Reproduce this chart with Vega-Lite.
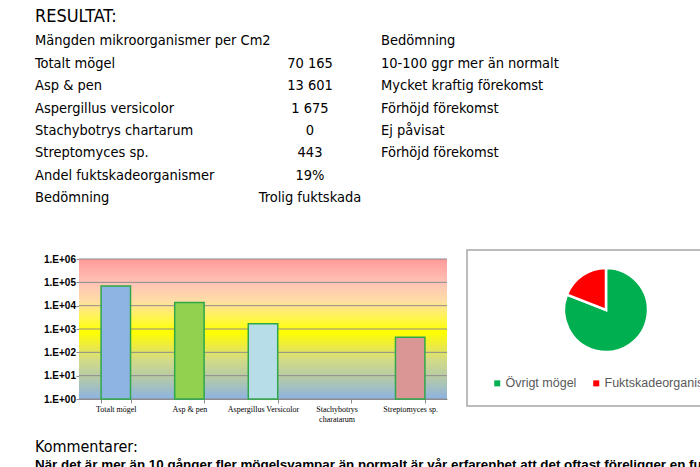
{
  "$schema": "https://vega.github.io/schema/vega-lite/v6.json",
  "padding": {"left": 35, "top": 0, "right": 0, "bottom": 0},
  "autosize": {"type": "pad"},
  "background": "white",
  "spacing": 10,
  "config": {"view": {"stroke": null}},
  "datasets": {
    "table": [
      {"row": 1, "col": 0, "text": "Mängden mikroorganismer per Cm2"},
      {"row": 1, "col": 2, "text": "Bedömning"},
      {"row": 2, "col": 0, "text": "Totalt mögel"},
      {"row": 2, "col": 1, "text": "70 165"},
      {"row": 2, "col": 2, "text": "10-100 ggr mer än normalt"},
      {"row": 3, "col": 0, "text": "Asp & pen"},
      {"row": 3, "col": 1, "text": "13 601"},
      {"row": 3, "col": 2, "text": "Mycket kraftig förekomst"},
      {"row": 4, "col": 0, "text": "Aspergillus versicolor"},
      {"row": 4, "col": 1, "text": "1 675"},
      {"row": 4, "col": 2, "text": "Förhöjd förekomst"},
      {"row": 5, "col": 0, "text": "Stachybotrys chartarum"},
      {"row": 5, "col": 1, "text": "0"},
      {"row": 5, "col": 2, "text": "Ej påvisat"},
      {"row": 6, "col": 0, "text": "Streptomyces sp."},
      {"row": 6, "col": 1, "text": "443"},
      {"row": 6, "col": 2, "text": "Förhöjd förekomst"},
      {"row": 7, "col": 0, "text": "Andel fuktskadeorganismer"},
      {"row": 7, "col": 1, "text": "19%"},
      {"row": 8, "col": 0, "text": "Bedömning"},
      {"row": 8, "col": 1, "text": "Trolig fuktskada"}
    ],
    "bars": [
      {"category": "Totalt mögel", "value": 70165},
      {"category": "Asp & pen", "value": 13601},
      {"category": "Aspergillus Versicolor", "value": 1675},
      {"category": "Stachybotrys charatarum", "value": 0},
      {"category": "Streptomyces sp.", "value": 443}
    ],
    "grid": [{"v": 1}, {"v": 10}, {"v": 100}, {"v": 1000}, {"v": 10000}, {"v": 100000}, {"v": 1000000}],
    "band": [{"lo": 1, "hi": 1000000}],
    "pie": [
      {"cat": "Övrigt mögel", "share": 81},
      {"cat": "Fuktskadeorganismer", "share": 19}
    ],
    "comment": [
      {"row": 0, "text": "Kommentarer:", "kind": "head"},
      {"row": 1, "text": "När det är mer än 10 gånger fler mögelsvampar än normalt är vår erfarenhet att det oftast föreligger en fuktskada.", "kind": "body"}
    ]
  },
  "vconcat": [
    {
      "width": 600,
      "height": 239,
      "data": {"name": "table"},
      "encoding": {
        "x": {"field": "col", "type": "quantitative", "axis": null,
              "scale": {"domain": [0, 1, 2], "range": [-44, 231, 302]}},
        "y": {"field": "row", "type": "quantitative", "axis": null,
              "scale": {"domain": [0, 8], "range": [19, 198.3]}},
        "text": {"field": "text"}
      },
      "layer": [
        {
          "data": {"values": [{"row": 0, "col": 0, "text": "RESULTAT:"}]},
          "mark": {"type": "text", "align": "left", "baseline": "middle", "font": "Liberation Sans Narrow, DejaVu Sans Condensed, Liberation Sans", "fontSize": 18, "dy": -2, "color": "black"}
        },
        {
          "transform": [{"filter": "datum.col != 1"}],
          "mark": {"type": "text", "align": "left", "baseline": "middle", "font": "Liberation Sans Narrow, DejaVu Sans Condensed, Liberation Sans", "fontSize": 14.5, "color": "black"}
        },
        {
          "transform": [{"filter": "datum.col == 1"}],
          "mark": {"type": "text", "align": "center", "baseline": "middle", "font": "Liberation Sans Narrow, DejaVu Sans Condensed, Liberation Sans", "fontSize": 14.5, "color": "black"}
        }
      ]
    },
    {
      "spacing": 18,
      "resolve": {"scale": {"color": "independent"}, "legend": {"color": "independent"}},
      "hconcat": [
        {
          "width": 368,
          "height": 149,
          "encoding": {
            "y": {"type": "quantitative",
                  "scale": {"type": "log", "domain": [1, 1000000], "range": [149, 9], "nice": false}}
          },
          "layer": [
            {
              "data": {"name": "band"},
              "mark": {"type": "rect", "fill": {"gradient": "linear", "x1": 0, "y1": 0, "x2": 0, "y2": 1,
                "stops": [
                  {"offset": 0, "color": "#FF9A9A"},
                  {"offset": 0.17, "color": "#FFC3B6"},
                  {"offset": 0.3, "color": "#FFDDA6"},
                  {"offset": 0.42, "color": "#FFF550"},
                  {"offset": 0.52, "color": "#FFFF00"},
                  {"offset": 0.62, "color": "#EDEB40"},
                  {"offset": 0.72, "color": "#D2DB86"},
                  {"offset": 0.85, "color": "#B5C9A8"},
                  {"offset": 1, "color": "#8DB3E2"}
                ]}},
              "encoding": {
                "y": {"field": "hi", "type": "quantitative",
                      "axis": {"values": [1, 10, 100, 1000, 10000, 100000, 1000000],
                               "labelExpr": "'1.E+0' + round(log(datum.value) / LN10)",
                               "title": null, "grid": false, "domainColor": "#8C8C8C", "tickColor": "#8C8C8C",
                               "tickSize": 3, "labelPadding": 0.5, "labelFont": "Liberation Sans", "labelFontSize": 10,
                               "labelColor": "black", "labelFontWeight": "bold"}},
                "y2": {"field": "lo"}
              }
            },
            {
              "data": {"name": "grid"},
              "mark": {"type": "rule", "color": "#8C8C8C", "strokeWidth": 1},
              "encoding": {"y": {"field": "v", "type": "quantitative"}}
            },
            {
              "data": {"name": "bars"},
              "transform": [{"filter": "datum.value > 0"}],
              "mark": {"type": "bar", "stroke": "#2EA84A", "strokeWidth": 1.5},
              "encoding": {
                "x": {"field": "category", "type": "nominal",
                      "scale": {"domain": ["Totalt mögel", "Asp & pen", "Aspergillus Versicolor", "Stachybotrys charatarum", "Streptomyces sp."],
                                "paddingInner": 0.6, "paddingOuter": 0.3},
                      "axis": {"title": null, "labelAngle": 0, "labelFont": "Liberation Serif", "labelFontSize": 8,
                               "labelColor": "black", "domainColor": "#8C8C8C", "tickColor": "#8C8C8C",
                               "tickBand": "extent", "tickSize": 4, "labelPadding": 2,
                               "labelExpr": "datum.label == 'Stachybotrys charatarum' ? ['Stachybotrys', 'charatarum'] : datum.label"}},
                "y": {"field": "value", "type": "quantitative"},
                "y2": {"datum": 1},
                "color": {"field": "category", "type": "nominal", "legend": null,
                          "scale": {"domain": ["Totalt mögel", "Asp & pen", "Aspergillus Versicolor", "Stachybotrys charatarum", "Streptomyces sp."],
                                    "range": ["#8DB4E2", "#92D050", "#B7DEE8", "#CCC0DA", "#DA9694"]}}
              }
            }
          ]
        },
        {
          "width": 278,
          "height": 156,
          "view": {"stroke": "#A6A6A6", "strokeWidth": 1.5},
          "data": {"name": "pie"},
          "mark": {"type": "arc", "radius": 42, "stroke": "white", "strokeWidth": 2.5, "yOffset": -18},
          "encoding": {
            "theta": {"field": "share", "type": "quantitative"},
            "order": {"field": "share", "sort": "descending"},
            "color": {"field": "cat", "type": "nominal",
                      "scale": {"domain": ["Övrigt mögel", "Fuktskadeorganismer"], "range": ["#00B050", "#FF0000"]},
                      "legend": {"title": null, "orient": "none", "direction": "horizontal", "legendX": 24, "legendY": 127,
                                 "symbolType": "square", "symbolSize": 36, "symbolStrokeWidth": 0,
                                 "labelFont": "Liberation Sans", "labelFontSize": 12.5, "labelColor": "#595959",
                                 "columnPadding": 13, "labelOffset": 2}}
          }
        }
      ]
    },
    {
      "width": 600,
      "height": 30,
      "data": {"name": "comment"},
      "encoding": {
        "x": {"datum": 0, "type": "quantitative", "axis": null, "scale": {"domain": [0, 1], "range": [-44, 0]}},
        "y": {"field": "row", "type": "quantitative", "axis": null, "scale": {"domain": [0, 1], "range": [14, 32]}},
        "text": {"field": "text"}
      },
      "layer": [
        {
          "transform": [{"filter": "datum.kind == 'head'"}],
          "mark": {"type": "text", "align": "left", "baseline": "middle", "font": "Liberation Sans Narrow, DejaVu Sans Condensed, Liberation Sans", "fontSize": 16, "color": "black"}
        },
        {
          "transform": [{"filter": "datum.kind == 'body'"}],
          "mark": {"type": "text", "align": "left", "baseline": "middle", "font": "Liberation Sans", "fontSize": 13.4, "fontWeight": "bold", "color": "black"}
        }
      ]
    }
  ]
}
